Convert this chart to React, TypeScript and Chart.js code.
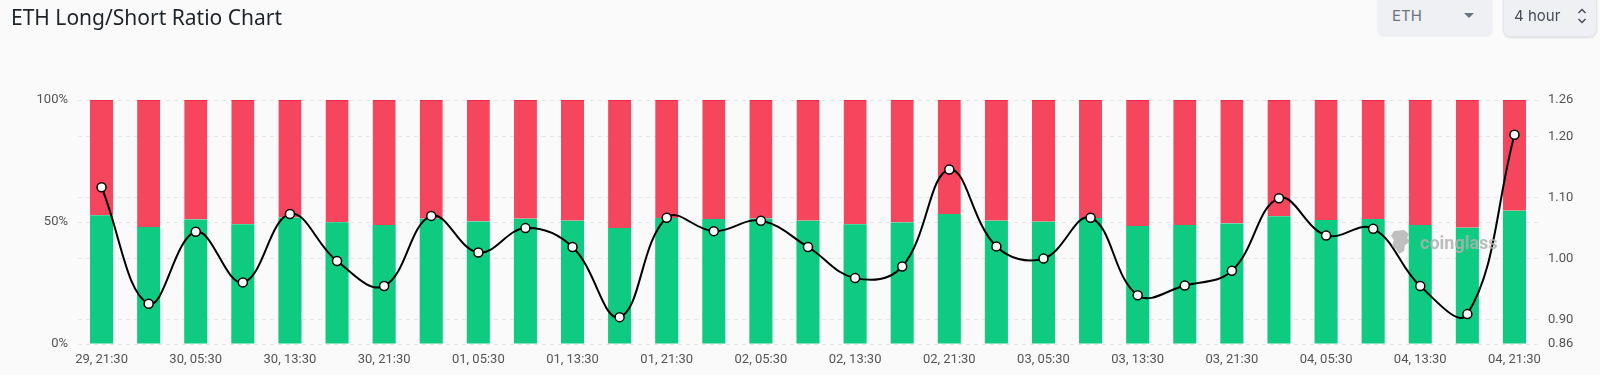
import React, { useEffect, useRef } from "react";
import { Chart, registerables } from "chart.js";

Chart.register(...registerables);

const LABELS = [
  "29, 21:30", "30, 01:30", "30, 05:30", "30, 09:30", "30, 13:30", "30, 17:30", "30, 21:30",
  "01, 01:30", "01, 05:30", "01, 09:30", "01, 13:30", "01, 17:30", "01, 21:30",
  "02, 01:30", "02, 05:30", "02, 09:30", "02, 13:30", "02, 17:30", "02, 21:30",
  "03, 01:30", "03, 05:30", "03, 09:30", "03, 13:30", "03, 17:30", "03, 21:30",
  "04, 01:30", "04, 05:30", "04, 09:30", "04, 13:30", "04, 17:30", "04, 21:30",
];

const LONG_PCT = [
  52.8, 48.0, 51.0, 49.1, 51.8, 49.9, 48.8, 51.3, 50.2, 51.3, 50.5, 47.5, 51.6, 51.2, 51.4, 50.5,
  49.1, 49.8, 53.3, 50.5, 50.1, 51.6, 48.4, 48.8, 49.4, 52.4, 50.8, 51.2, 48.8, 47.6, 54.6,
];

const SHORT_PCT = [
  47.2, 52.0, 49.0, 50.9, 48.2, 50.1, 51.2, 48.7, 49.8, 48.7, 49.5, 52.5, 48.4, 48.8, 48.6, 49.5,
  50.9, 50.2, 46.7, 49.5, 49.9, 48.4, 51.6, 51.2, 50.6, 47.6, 49.2, 48.8, 51.2, 52.4, 45.4,
];

const RATIO = [
  1.117, 0.926, 1.044, 0.961, 1.073, 0.996, 0.955, 1.07, 1.01, 1.05, 1.019, 0.904, 1.067, 1.045,
  1.062, 1.019, 0.968, 0.987, 1.146, 1.02, 1.0, 1.067, 0.94, 0.956, 0.98, 1.099, 1.038, 1.049,
  0.955, 0.909, 1.203,
];

const LEFT_TICKS = [0, 50, 100];
const RIGHT_TICKS = [0.86, 0.9, 1.0, 1.1, 1.2, 1.26];

const GREEN = "#0ecb81";
const RED = "#f6465d";
const GRID = "#e6e6e6";
const TICK_COLOR = "#555555";
const TICK_FONT = { family: "Roboto", size: 13 };

export default function App() {
  const canvasRef = useRef<HTMLCanvasElement | null>(null);

  useEffect(() => {
    if (!canvasRef.current) return;
    const chart = new Chart(canvasRef.current, {
      type: "bar",
      data: {
        labels: LABELS,
        datasets: [
          {
            type: "line",
            label: "Long/Short Ratio",
            data: RATIO,
            yAxisID: "y1",
            borderColor: "#000000",
            borderWidth: 2,
            tension: 0.4,
            pointRadius: 4.5,
            pointBackgroundColor: "#ffffff",
            pointBorderColor: "#000000",
            pointBorderWidth: 1.5,
            order: 0,
          } as any,
          {
            label: "Long",
            data: LONG_PCT,
            yAxisID: "y",
            backgroundColor: GREEN,
            borderWidth: 0,
            categoryPercentage: 1,
            barPercentage: 0.49,
            order: 1,
          },
          {
            label: "Short",
            data: SHORT_PCT,
            yAxisID: "y",
            backgroundColor: RED,
            borderColor: "#ee2a4a",
            borderWidth: { top: 1, left: 0, right: 0, bottom: 0 },
            borderSkipped: false,
            categoryPercentage: 1,
            barPercentage: 0.49,
            order: 1,
          } as any,
        ],
      },
      options: {
        animation: false,
        responsive: false,
        maintainAspectRatio: false,
        layout: { padding: { top: 100, left: 0, right: 0, bottom: 0 } },
        plugins: {
          legend: { display: false },
          title: { display: false },
          tooltip: { enabled: false },
        },
        scales: {
          x: {
            stacked: true,
            grid: { display: false, drawTicks: false },
            border: { display: false },
            ticks: {
              color: TICK_COLOR,
              font: TICK_FONT,
              maxRotation: 0,
              autoSkip: false,
              padding: 8,
              callback: (_v: any, i: number) => (i % 2 === 0 ? LABELS[i] : ""),
            },
            afterFit: (s: any) => {
              s.height = 31;
            },
          },
          y: {
            stacked: true,
            position: "left",
            min: 0,
            max: 100,
            afterBuildTicks: (s: any) => {
              s.ticks = LEFT_TICKS.map((v) => ({ value: v }));
            },
            grid: { color: GRID, drawTicks: false, lineWidth: 1 },
            border: { display: false, dash: [4, 4] },
            ticks: {
              color: TICK_COLOR,
              font: TICK_FONT,
              padding: 10,
              callback: (v: any) => v + "%",
            },
            afterFit: (s: any) => {
              s.width = 78;
            },
          },
          y1: {
            position: "right",
            min: 0.86,
            max: 1.26,
            afterBuildTicks: (s: any) => {
              s.ticks = RIGHT_TICKS.map((v) => ({ value: v }));
            },
            grid: { color: GRID, drawTicks: false, lineWidth: 1 },
            border: { display: false, dash: [4, 4] },
            ticks: {
              color: TICK_COLOR,
              font: TICK_FONT,
              padding: 10,
              callback: (v: any) => Number(v).toFixed(2),
            },
            afterFit: (s: any) => {
              s.width = 62;
            },
          },
        },
      },
    });
    return () => chart.destroy();
  }, []);

  return (
    <div
      style={{
        position: "fixed",
        left: 0,
        top: 0,
        width: 1600,
        height: 375,
        background: "#fafafa",
        overflow: "hidden",
        fontFamily: "'Noto Sans', sans-serif",
      }}
    >
      <canvas
        ref={canvasRef}
        width={1600}
        height={375}
        style={{ position: "absolute", left: 0, top: 0, width: 1600, height: 375 }}
      />
      <div
        style={{
          position: "absolute",
          left: 11,
          top: 2,
          fontSize: 21,
          lineHeight: "30px",
          color: "#1e2329",
          whiteSpace: "nowrap",
        }}
      >
        ETH Long/Short Ratio Chart
      </div>
      <div
        style={{
          position: "absolute",
          left: 1377,
          top: -8,
          width: 116,
          height: 45,
          background: "#eef0f4",
          borderRadius: 8,
        }}
      >
        <span
          style={{
            position: "absolute",
            left: 15,
            top: 8,
            fontSize: 15,
            lineHeight: "32px",
            color: "#6b7280",
            fontFamily: "Inter, sans-serif",
          }}
        >
          ETH
        </span>
        <svg
          width={10}
          height={6}
          style={{ position: "absolute", left: 87, top: 21 }}
          viewBox="0 0 10 6"
        >
          <path d="M0 0 L10 0 L5 5 Z" fill="#6b7280" />
        </svg>
      </div>
      <div
        style={{
          position: "absolute",
          left: 1503,
          top: -8,
          width: 94,
          height: 45,
          background: "#eef0f4",
          borderRadius: 8,
          boxShadow: "0 1px 2px rgba(0,0,0,0.12)",
          border: "1px solid #e3e5ea",
          boxSizing: "border-box",
        }}
      >
        <span
          style={{
            position: "absolute",
            left: 10,
            top: 7,
            fontSize: 15,
            lineHeight: "32px",
            color: "#474d57",
            fontFamily: "Inter, sans-serif",
          }}
        >
          4 hour
        </span>
        <svg
          width={10}
          height={16}
          style={{ position: "absolute", left: 73, top: 15 }}
          viewBox="0 0 10 16"
        >
          <path d="M1.5 5 L5 1.5 L8.5 5" stroke="#474d57" strokeWidth={1.5} fill="none" />
          <path d="M1.5 11 L5 14.5 L8.5 11" stroke="#474d57" strokeWidth={1.5} fill="none" />
        </svg>
      </div>
      <div
        style={{
          position: "absolute",
          left: 1390,
          top: 229,
          display: "flex",
          alignItems: "center",
          pointerEvents: "none",
        }}
      >
        <svg width={22} height={26} viewBox="0 0 22 26" style={{ marginRight: 8, opacity: 0.85 }}>
          <path
            d="M4 2 L14 1 L19 5 L17 9 L20 13 L15 16 L14 22 L9 25 L6 20 L2 17 L4 11 L1 7 Z"
            fill="#b4b4b4"
          />
        </svg>
        <span
          style={{
            fontFamily: "Roboto, sans-serif",
            fontWeight: 700,
            fontSize: 18,
            color: "rgba(176,176,176,0.85)",
            letterSpacing: 0,
          }}
        >
          coinglass
        </span>
      </div>
    </div>
  );
}
